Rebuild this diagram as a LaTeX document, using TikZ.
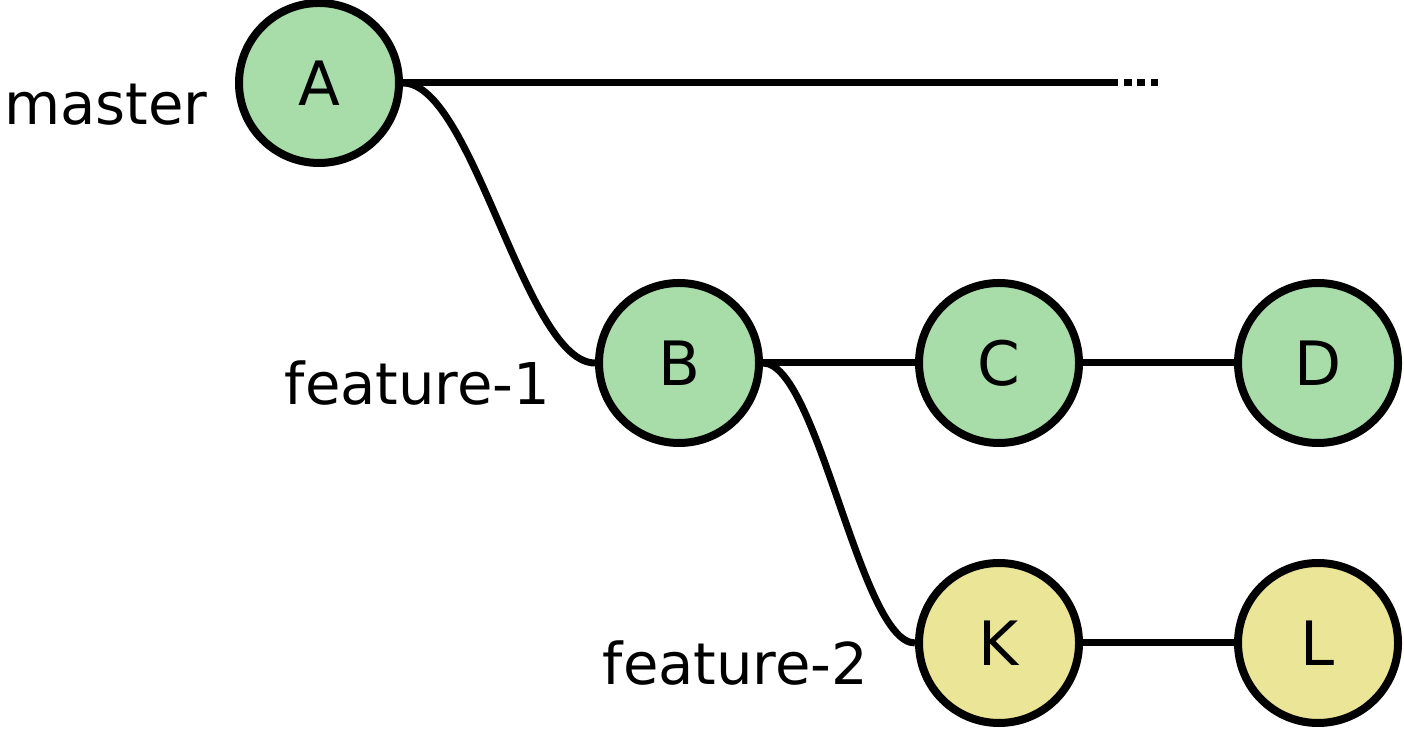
\documentclass[tikz,border=0pt]{standalone}
\usepackage{fontspec}
\setmainfont{DejaVu Sans}
\usetikzlibrary{positioning}
\definecolor{mastergreen}{HTML}{A8DDA9}
\definecolor{branchyellow}{HTML}{EBE598}

\begin{document}
\begin{tikzpicture}[
  commit/.style = {draw, circle, line width=0.08cm, minimum size=1.6cm, inner sep=0pt, font=\fontsize{17.4}{20}\selectfont},
  branch/.style = {anchor=base east, inner sep=0pt, font=\fontsize{16.4}{19}\selectfont},
  link/.style = {line width=0.07cm}
]
\useasboundingbox (0,0) rectangle (14.04,7.28);
% commits
\node[commit, fill=mastergreen] (A) at (3.19,6.45) {A};
\node[commit, fill=mastergreen] (B) at (6.79,3.65) {B};
\node[commit, fill=mastergreen, right=1.52cm of B] (C) {C};
\node[commit, fill=mastergreen, right=1.51cm of C] (D) {D};
\node[commit, fill=branchyellow, below=1.12cm of C] (K) {K};
\node[commit, fill=branchyellow, right=1.51cm of K] (L) {L};
% branch names
\node[branch] (master) at (2.08,6.03) {master};
\node[branch] (feat1) at (5.51,3.23) {feature-1};
\node[branch] (feat2) at (8.69,0.43) {feature-2};
% history
\coordinate (mend) at (11.177,6.45);
\coordinate (dots) at (11.24,6.45);
\draw[link] (A.east) -- (mend);
\draw[link, dash pattern=on 0.077cm off 0.056cm] (dots) -- ++(0.345,0);
\draw[link] (A.east) .. controls +(0.7,0) and +(-0.7,0) .. (B.west);
\draw[link] (B.east) .. controls +(0.55,0) and +(-0.55,0) .. (K.west);
\draw[link] (B) -- (C);
\draw[link] (C) -- (D);
\draw[link] (K) -- (L);
\end{tikzpicture}
\end{document}
